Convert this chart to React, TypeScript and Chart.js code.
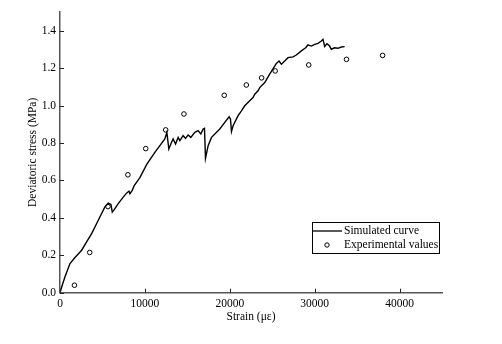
import React, { useEffect, useRef } from "react";
import { Chart, registerables } from "chart.js";

Chart.register(...registerables);

// Simulated curve
const strainSim = [
  0, 300, 588, 1176, 1765, 2550, 3137, 3725, 4510, 5290, 5690, 6000, 6157, 6390, 6860, 7450, 7840, 8120, 8235,
  8510, 8745, 9410, 10200, 11176, 11765, 12350, 12590, 12820, 13140, 13330, 13610, 13920, 14120, 14500, 14790,
  15090, 15410, 15880, 16270, 16590, 16860, 17020, 17140, 17450, 17850, 18820, 19410, 19920, 20080, 20200, 20390,
  20980, 21375, 21765, 22350, 22740, 22940, 23330, 23530, 24120, 24700, 25180, 25490, 25800, 26080, 26470, 26860,
  27450, 27840, 28430, 28940, 29210, 29610, 30000, 30390, 30790, 30980, 31180, 31450, 31760, 31960, 32350, 32740,
  33140, 33530,
];
const stressSim = [
  0, 0.045, 0.085, 0.156, 0.188, 0.227, 0.271, 0.316, 0.387, 0.458, 0.479, 0.472, 0.431, 0.444, 0.476, 0.511, 0.532,
  0.543, 0.529, 0.547, 0.573, 0.615, 0.684, 0.75, 0.786, 0.822, 0.857, 0.768, 0.804, 0.822, 0.795, 0.83, 0.813,
  0.839, 0.825, 0.843, 0.83, 0.857, 0.866, 0.848, 0.875, 0.878, 0.718, 0.786, 0.83, 0.875, 0.91, 0.94, 0.928, 0.861,
  0.892, 0.946, 0.972, 0.999, 1.026, 1.043, 1.061, 1.079, 1.096, 1.123, 1.168, 1.203, 1.225, 1.238, 1.221, 1.238,
  1.256, 1.26, 1.27, 1.292, 1.309, 1.324, 1.318, 1.327, 1.332, 1.345, 1.354, 1.316, 1.33, 1.318, 1.301, 1.309,
  1.306, 1.313, 1.315,
];

// Experimental values
const strainExp = [1700, 3500, 5650, 8000, 10100, 12450, 14600, 19350, 21950, 23750, 25350, 29300, 33750, 38000];
const stressExp = [0.04, 0.215, 0.46, 0.63, 0.77, 0.87, 0.955, 1.055, 1.11, 1.148, 1.185, 1.217, 1.247, 1.268];

// Tick values
const xTickValues = [0, 10000, 20000, 30000, 40000];
const yTickValues = [0, 0.2, 0.4, 0.6, 0.8, 1.0, 1.2, 1.4];

const seriesLabels = ["Simulated curve", "Experimental values"];
const xTitle = "Strain (με)";
const yTitle = "Deviatoric stress (MPa)";

const FONT = "'Liberation Serif', 'Times New Roman', serif";

const innerTicks = {
  id: "innerTicks",
  afterDraw(chart: any) {
    const { ctx, chartArea, scales } = chart;
    ctx.save();
    ctx.strokeStyle = "#222";
    ctx.lineWidth = 1;
    for (const v of xTickValues) {
      const px = Math.round(scales.x.getPixelForValue(v)) + 0.5;
      ctx.beginPath();
      ctx.moveTo(px, chartArea.bottom);
      ctx.lineTo(px, chartArea.bottom - 4);
      ctx.stroke();
    }
    for (const v of yTickValues) {
      const py = Math.round(scales.y.getPixelForValue(v)) + 0.5;
      ctx.beginPath();
      ctx.moveTo(chartArea.left, py);
      ctx.lineTo(chartArea.left + 4, py);
      ctx.stroke();
    }
    ctx.restore();
  },
};

const boxLegend = {
  id: "boxLegend",
  afterDraw(chart: any) {
    const { ctx } = chart;
    const ds = chart.data.datasets;
    const x0 = 312.5, y0 = 222.5, w = 127, h = 31;
    ctx.save();
    ctx.fillStyle = "#fff";
    ctx.fillRect(x0, y0, w, h);
    ctx.strokeStyle = "#000";
    ctx.lineWidth = 1;
    ctx.strokeRect(x0, y0, w, h);
    ctx.lineWidth = 1.3;
    ctx.beginPath();
    ctx.moveTo(313, 231);
    ctx.lineTo(342, 231);
    ctx.stroke();
    ctx.lineWidth = 1;
    ctx.beginPath();
    ctx.arc(327, 245, 2.2, 0, Math.PI * 2);
    ctx.stroke();
    ctx.fillStyle = "#000";
    ctx.font = `11.5px ${FONT}`;
    ctx.textBaseline = "middle";
    ctx.textAlign = "left";
    ctx.fillText(ds[0].label, 344, 231);
    ctx.fillText(ds[1].label, 344, 245);
    ctx.restore();
  },
};

export default function App() {
  const ref = useRef<HTMLCanvasElement>(null);
  useEffect(() => {
    const simData = strainSim.map((x, i) => ({ x, y: stressSim[i] }));
    const expData = strainExp.map((x, i) => ({ x, y: stressExp[i] }));
    const chart = new Chart(ref.current!, {
      type: "scatter",
      data: {
        datasets: [
          {
            label: seriesLabels[0],
            data: simData,
            showLine: true,
            borderColor: "#000",
            borderWidth: 1.4,
            pointRadius: 0,
            tension: 0,
            order: 2,
          },
          {
            label: seriesLabels[1],
            data: expData,
            showLine: false,
            borderColor: "#000",
            backgroundColor: "rgba(0,0,0,0)",
            pointRadius: 2.3,
            pointBorderWidth: 1,
            pointBorderColor: "#000",
            pointBackgroundColor: "rgba(0,0,0,0)",
            order: 1,
          },
        ],
      },
      options: {
        animation: false,
        responsive: true,
        maintainAspectRatio: false,
        layout: { padding: { top: 12, right: 60, left: 0, bottom: 0 } },
        plugins: { legend: { display: false }, tooltip: { enabled: false } },
        scales: {
          x: {
            type: "linear",
            min: 0,
            max: 45000,
            afterBuildTicks: (s: any) => {
              s.ticks = xTickValues.map((v) => ({ value: v }));
            },
            afterFit: (s: any) => {
              s.height = 51.3;
            },
            ticks: {
              autoSkip: false,
              padding: 4,
              color: "#000",
              font: { family: FONT, size: 11.5 },
              callback: (v: any) => String(v),
              maxRotation: 0,
            },
            grid: { display: true, drawOnChartArea: false, drawTicks: false },
            border: { display: true, color: "#555", width: 1.5 },
            title: {
              display: true,
              text: xTitle,
              color: "#000",
              font: { family: FONT, size: 11.5 },
              padding: { top: 0, bottom: 20 },
            },
          },
          y: {
            type: "linear",
            min: 0,
            max: 1.5,
            afterBuildTicks: (s: any) => {
              s.ticks = yTickValues.map((v) => ({ value: v }));
            },
            afterFit: (s: any) => {
              s.width = 60;
            },
            ticks: {
              autoSkip: false,
              padding: 4,
              color: "#000",
              font: { family: FONT, size: 11.5 },
              callback: (v: any) => Number(v).toFixed(1),
            },
            grid: { display: true, drawOnChartArea: false, drawTicks: false },
            border: { display: true, color: "#555", width: 1.5 },
            title: {
              display: true,
              text: yTitle,
              color: "#000",
              font: { family: FONT, size: 11.5 },
              padding: { top: 26, bottom: 0 },
            },
          },
        },
      },
      plugins: [innerTicks, boxLegend],
    });
    return () => chart.destroy();
  }, []);
  return (
    <div style={{ position: "fixed", left: 0, top: 0, width: 502, height: 344, background: "#fff" }}>
      <canvas ref={ref} />
    </div>
  );
}
